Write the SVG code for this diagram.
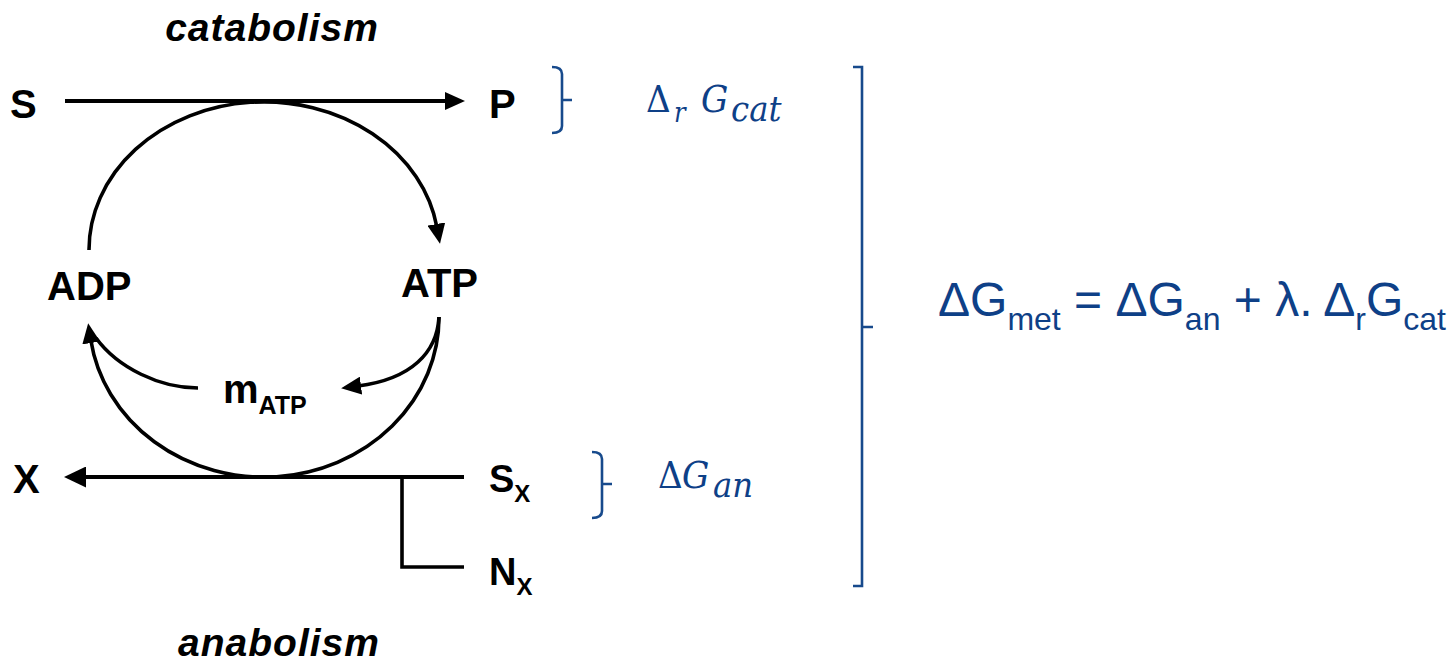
<svg xmlns="http://www.w3.org/2000/svg" width="1455" height="662" viewBox="0 0 1455 662">
<style>
  .lbl{font-family:"Liberation Sans",Arial,sans-serif;font-weight:bold;fill:#000;}
  .big{font-size:40px;}
  .sub{font-size:25px;}
  .ital{font-family:"Liberation Sans",Arial,sans-serif;font-weight:bold;font-style:italic;font-size:39px;letter-spacing:1px;fill:#000;text-anchor:middle;}
  .ln{fill:none;stroke:#000;stroke-width:3.6;}
  .br{fill:none;stroke:#174a8c;stroke-width:2.6;}
  .math{font-family:"DejaVu Serif Condensed","DejaVu Serif",serif;fill:#0e4087;}
  .eq{font-family:"Liberation Sans",Arial,sans-serif;fill:#0e4087;font-size:48px;}
</style>
<defs>
  <marker id="ah" markerUnits="userSpaceOnUse" viewBox="0 0 20 18" markerWidth="20" markerHeight="18" refX="3" refY="9" orient="auto">
    <path d="M0,0 L20,9 L0,18 z" fill="#000"/>
  </marker>
  <marker id="ahL" markerUnits="userSpaceOnUse" viewBox="0 0 22 21" markerWidth="22" markerHeight="21" refX="3" refY="10.5" orient="auto">
    <path d="M0,0 L22,10.5 L0,21 z" fill="#000"/>
  </marker>
</defs>

<g id="connectors">
  <path class="ln" style="stroke-width:4.2" d="M65 101 L448 101" marker-end="url(#ah)"/>
  <path class="ln" d="M89 250 A175 148 0 0 1 436.9 227" marker-end="url(#ah)"/>
  <path class="ln" d="M439 317 A175 160 0 0 1 90.8 340" marker-end="url(#ah)"/>
  <path class="ln" d="M439 317 C437 352 412 379 358 386" marker-end="url(#ah)"/>
  <path class="ln" d="M198 388 C160 388 118 368 96 338"/>
  <path class="ln" style="stroke-width:4.2" d="M464 477 L83 477" marker-end="url(#ahL)"/>
  <path class="ln" d="M402 477 L402 567 L464 567"/>
</g>

<g id="label-catabolism"><text class="ital" x="272" y="41">catabolism</text></g>
<g id="label-anabolism"><text class="ital" x="279" y="656">anabolism</text></g>

<g id="node-S"><text class="lbl big" x="10" y="118">S</text></g>
<g id="node-P"><text class="lbl big" x="489" y="118">P</text></g>
<g id="node-ADP"><text class="lbl big" x="47" y="300">ADP</text></g>
<g id="node-ATP"><text class="lbl big" x="401" y="297">ATP</text></g>
<g id="node-mATP"><text class="lbl big" x="223" y="403">m<tspan class="sub" y="414">ATP</tspan></text></g>
<g id="node-X"><text class="lbl big" x="13" y="493">X</text></g>
<g id="node-SX"><text class="lbl" style="font-size:38px" x="489" y="492">S<tspan style="font-size:24px" y="502">X</tspan></text></g>
<g id="node-NX"><text class="lbl" style="font-size:38px" x="489" y="585">N<tspan style="font-size:24px" y="595">X</tspan></text></g>

<g id="bracket-cat">
  <path class="br" d="M552 67 Q562 67 562 74 L562 126 Q562 133 552 133 M562 100 L572 100"/>
</g>
<g id="bracket-an">
  <path class="br" d="M592 452 Q602 452 602 459 L602 511 Q602 518 592 518 M602 484 L612 484"/>
</g>
<g id="bracket-met">
  <path class="br" d="M853 67 L862 67 L862 586 L853 586 M862 327 L873 327"/>
</g>

<g id="label-dGcat">
  <text class="math" font-size="38" x="646" y="112">Δ</text>
  <text class="math" font-size="27" font-style="italic" x="674" y="122">r</text>
  <text class="math" font-size="38" font-style="italic" x="701" y="112">G</text>
  <text class="math" font-size="36" font-style="italic" x="731" y="121">cat</text>
</g>
<g id="label-dGan">
  <text class="math" font-size="38" x="658" y="488">Δ</text>
  <text class="math" font-size="38" font-style="italic" x="682" y="488">G</text>
  <text class="math" font-size="36" font-style="italic" x="713" y="497">an</text>
</g>

<g id="equation">
  <text class="eq" x="938" y="316">ΔG<tspan font-size="32" y="330">met</tspan><tspan y="316"> = ΔG</tspan><tspan font-size="32" y="330">an</tspan><tspan y="316"> + λ. Δ</tspan><tspan font-size="32" y="330">r</tspan><tspan y="316">G</tspan><tspan font-size="32" y="330">cat</tspan></text>
</g>
</svg>
